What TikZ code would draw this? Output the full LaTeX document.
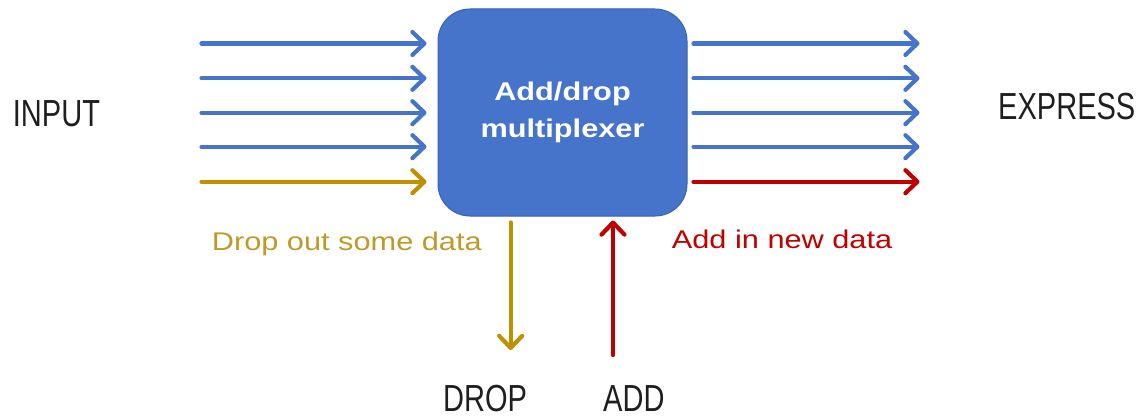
\documentclass[tikz,border=0pt]{standalone}
\usepackage{fontspec}
\usetikzlibrary{arrows.meta}
\newfontfamily\slidefont[FakeStretch=1.2]{Liberation Sans}
\newfontfamily\labelfont[FakeStretch=0.77]{Liberation Sans}
\definecolor{mblue}{HTML}{4674CA}
\definecolor{mborder}{HTML}{3A62B0}
\definecolor{mgold}{HTML}{BF9000}
\definecolor{mred}{HTML}{C00000}
\definecolor{mgoldtxt}{HTML}{BF9A2A}
\definecolor{mlabel}{HTML}{1E1E1E}
\tikzset{
  flow/.style={line width=4.2pt, line cap=round,
    -{Straight Barb[length=12pt,width=23pt,line cap=round,line join=round]}},
  bluef/.style={flow, draw=mblue},
  goldf/.style={flow, draw=mgold},
  redf/.style={flow, draw=mred},
  muxbox/.style={draw=mborder, line width=1pt, fill=mblue, rounded corners=32pt,
    minimum width=249pt, minimum height=207pt, inner sep=0pt, align=center,
    text=white, font=\slidefont\bfseries\fontsize{25.6pt}{36.7pt}\selectfont},
  bigla/.style={anchor=base west, inner sep=0pt, text=mlabel,
    font=\labelfont\fontsize{37.7pt}{40pt}\selectfont},
  smallla/.style={anchor=base west, inner sep=0pt,
    font=\slidefont\fontsize{25.6pt}{30pt}\selectfont}
}
\begin{document}
\begin{tikzpicture}[x=1pt,y=-1pt]
\useasboundingbox (0,0) rectangle (1144,417);
\node[muxbox] (mux) at (562.5,112.5) {Add/drop\\multiplexer};
% input and express arrows
\foreach \i/\yy in {1/43.5,2/78.3,3/112.7,4/146.7}{
  \coordinate (in\i) at (201.5,\yy);
  \coordinate (out\i) at (693.5,\yy);
  \draw[bluef, shorten >=11pt] (in\i) -- (mux.west |- in\i);
  \draw[bluef] (out\i) -- ++(226,0);
}
\coordinate (in5) at (201.5,181.7);
\draw[goldf, shorten >=11pt] (in5) -- (mux.west |- in5);
\coordinate (out5) at (693.5,181.7);
\coordinate (exp5) at (919.5,181.7);
\draw[redf] (out5) -- (exp5);
% drop / add
\coordinate (dropend) at (510.7,350);
\draw[goldf, shorten <=6pt] (mux.south -| dropend) -- (dropend);
\coordinate (addstart) at (613,355);
\draw[redf, shorten >=4pt] (addstart) -- (mux.south -| addstart);
% labels
\node[bigla] (input) at (12.7,126.7) {INPUT};
\node[bigla] (express) at (998,119.3) {EXPRESS};
\node[bigla] (drop) at (443,411) {DROP};
\node[bigla] (add) at (603,411) {ADD};
\node[smallla, text=mgoldtxt] (droptxt) at (211.7,250.7) {Drop out some data};
\node[smallla, text=mred] (addtxt) at (671.7,248.3) {Add in new data};
\end{tikzpicture}
\end{document}
